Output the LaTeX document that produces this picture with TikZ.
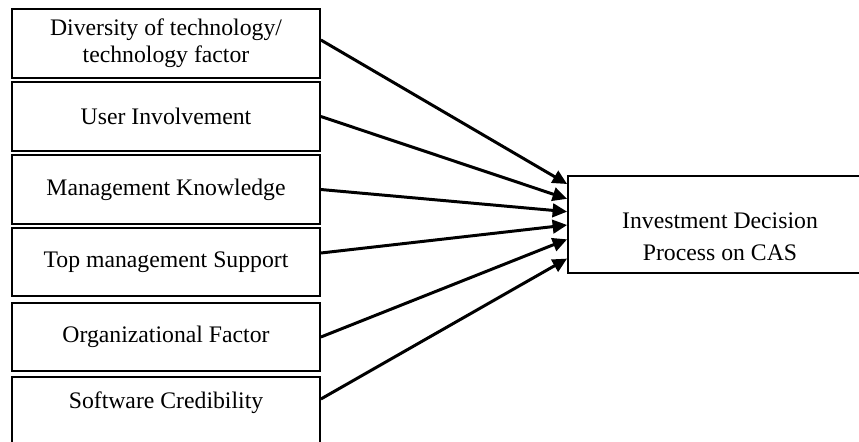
\documentclass[tikz,border=0pt]{standalone}
\usepackage{fontspec}
\setmainfont{Liberation Serif}
\usetikzlibrary{arrows.meta,positioning,calc}

\begin{document}
\begin{tikzpicture}[
    factor/.style={rectangle, draw=black, line width=1pt,
                   minimum width=6.16cm, minimum height=1.37cm, inner sep=0pt,
                   align=center, font=\fontsize{13.5}{15.5}\selectfont},
    outcome/.style={rectangle, draw=black, line width=1pt,
                    minimum width=6.08cm, minimum height=1.94cm},
    link/.style={-{Triangle[length=0.29cm, width=0.27cm]}, line width=1.7pt},
]
    \useasboundingbox (0,0) rectangle (17.18,8.82);
    \clip (0,0) rectangle (17.18,8.82);

    % Factors
    \node[factor] (tech) at (3.32,7.95) {Diversity of technology/\\technology factor};
    \node[factor] (user) at (3.32,6.49) {User Involvement};
    \node[factor] (know) at (3.32,5.03) {Management Knowledge};
    \node[factor] (topm) at (3.32,3.58) {Top management Support};
    \node[factor] (org) at (3.32,2.08) {Organizational Factor};
    \node[factor, text depth=0.45cm] (soft) at (3.32,0.59) {Software Credibility};

    % Outcome
    \node[outcome] (dec) at (14.40,4.33) {};
    \node[font=\fontsize{13.5}{18}\selectfont, align=center] (dectxt)
        at ([yshift=-0.25cm]dec.center) {Investment Decision\\Process on CAS};

    % Links
    \draw[link] ([yshift=0.07cm]tech.east) -- ($(dec.north west)!0.09!(dec.south west)$);
    \draw[link] (user.east) -- ($(dec.north west)!0.24!(dec.south west)$);
    \draw[link] (know.east) -- ($(dec.north west)!0.37!(dec.south west)$);
    \draw[link] ([yshift=0.18cm]topm.east) -- ($(dec.north west)!0.505!(dec.south west)$);
    \draw[link] (org.east) -- ($(dec.north west)!0.65!(dec.south west)$);
    \draw[link] ([yshift=0.25cm]soft.east) -- ($(dec.north west)!0.845!(dec.south west)$);
\end{tikzpicture}
\end{document}
